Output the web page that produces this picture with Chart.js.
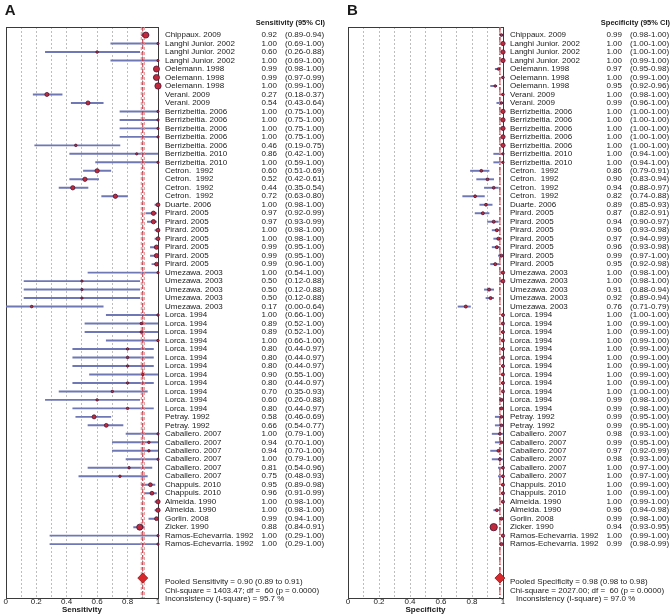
<!DOCTYPE html>
<html>
<head>
<meta charset="utf-8">
<script src="https://cdn.jsdelivr.net/npm/chart.js@4.4.1/dist/chart.umd.min.js"></script>
<style>
  body { margin: 0; background: #fff; }
  .wrap { display: flex; width: 670px; height: 615px; }
  canvas { display: block; }
</style>
</head>
<body>
<div class="wrap">
  <canvas id="chartA" width="335" height="615"></canvas>
  <canvas id="chartB" width="335" height="615"></canvas>
</div>
<script>
// studies (one row each, top to bottom)
const studies = [
  'Chippaux. 2009',
  'Langhi Junior. 2002', 'Langhi Junior. 2002', 'Langhi Junior. 2002',
  'Oelemann. 1998', 'Oelemann. 1998', 'Oelemann. 1998',
  'Verani. 2009', 'Verani. 2009',
  'Berrizbeitia. 2006', 'Berrizbeitia. 2006', 'Berrizbeitia. 2006', 'Berrizbeitia. 2006', 'Berrizbeitia. 2006',
  'Berrizbeitia. 2010', 'Berrizbeitia. 2010',
  'Cetron.  1992', 'Cetron.  1992', 'Cetron.  1992', 'Cetron.  1992',
  'Duarte. 2006',
  'Pirard. 2005', 'Pirard. 2005', 'Pirard. 2005', 'Pirard. 2005', 'Pirard. 2005', 'Pirard. 2005', 'Pirard. 2005',
  'Umezawa. 2003', 'Umezawa. 2003', 'Umezawa. 2003', 'Umezawa. 2003', 'Umezawa. 2003',
  'Lorca. 1994', 'Lorca. 1994', 'Lorca. 1994', 'Lorca. 1994', 'Lorca. 1994', 'Lorca. 1994',
  'Lorca. 1994', 'Lorca. 1994', 'Lorca. 1994', 'Lorca. 1994', 'Lorca. 1994', 'Lorca. 1994',
  'Petray. 1992', 'Petray. 1992',
  'Caballero. 2007', 'Caballero. 2007', 'Caballero. 2007', 'Caballero. 2007', 'Caballero. 2007', 'Caballero. 2007',
  'Chappuis. 2010', 'Chappuis. 2010',
  'Almeida. 1990', 'Almeida. 1990',
  'Gorlin. 2008',
  'Zicker. 1990',
  'Ramos-Echevarria. 1992', 'Ramos-Echevarria. 1992'
];

// sensitivity (panel A)
const sensVal = [0.92, 1.00, 0.60, 1.00, 0.99, 0.99, 1.00, 0.27, 0.54, 1.00, 1.00, 1.00, 1.00, 0.46, 0.86, 1.00,
  0.60, 0.52, 0.44, 0.72, 1.00, 0.97, 0.97, 1.00, 1.00, 0.99, 0.99, 0.99, 1.00, 0.50, 0.50, 0.50, 0.17,
  1.00, 0.89, 0.89, 1.00, 0.80, 0.80, 0.80, 0.90, 0.80, 0.70, 0.60, 0.80, 0.58, 0.66,
  1.00, 0.94, 0.94, 1.00, 0.81, 0.75, 0.95, 0.96, 1.00, 1.00, 0.99, 0.88, 1.00, 1.00];
const sensLo = [0.89, 0.69, 0.26, 0.69, 0.98, 0.97, 0.99, 0.18, 0.43, 0.75, 0.75, 0.75, 0.75, 0.19, 0.42, 0.59,
  0.51, 0.42, 0.35, 0.63, 0.98, 0.92, 0.93, 0.98, 0.98, 0.95, 0.95, 0.96, 0.54, 0.12, 0.12, 0.12, 0.00,
  0.66, 0.52, 0.52, 0.66, 0.44, 0.44, 0.44, 0.55, 0.44, 0.35, 0.26, 0.44, 0.46, 0.54,
  0.79, 0.70, 0.70, 0.79, 0.54, 0.48, 0.89, 0.91, 0.98, 0.98, 0.94, 0.84, 0.29, 0.29];
const sensHi = [0.94, 1.00, 0.88, 1.00, 1.00, 0.99, 1.00, 0.37, 0.64, 1.00, 1.00, 1.00, 1.00, 0.75, 1.00, 1.00,
  0.69, 0.61, 0.54, 0.80, 1.00, 0.99, 0.99, 1.00, 1.00, 1.00, 1.00, 1.00, 1.00, 0.88, 0.88, 0.88, 0.64,
  1.00, 1.00, 1.00, 1.00, 0.97, 0.97, 0.97, 1.00, 0.97, 0.93, 0.88, 0.97, 0.69, 0.77,
  1.00, 1.00, 1.00, 1.00, 0.96, 0.93, 0.98, 0.99, 1.00, 1.00, 1.00, 0.91, 1.00, 1.00];
const sensWeight = [8.5, 1, 1.5, 1, 8.5, 8.5, 9, 4.5, 4.5, 1, 1, 1, 1, 1.5, 1, 1,
  5, 5, 5, 5, 4, 5, 5, 4, 4, 5, 5, 4, 1, 1, 1, 1, 1.5,
  1.3, 1.3, 1.3, 1.3, 1.3, 1.3, 1.3, 1.3, 1.3, 1.3, 1.3, 1.3, 4.5, 4,
  1, 1.3, 1.3, 1, 1.3, 1.3, 4, 4, 5, 5, 4, 8.5, 1, 1];
const sensPooled = [0.90, 0.89, 0.91];
const sensStats = [
  'Pooled Sensitivity = 0.90 (0.89 to 0.91)',
  'Chi-square = 1403.47; df =  60 (p = 0.0000)',
  'Inconsistency (I-square) = 95.7 %'
];

// specificity (panel B)
const specVal = [0.99, 1.00, 1.00, 1.00, 0.97, 1.00, 0.95, 1.00, 0.99, 1.00, 1.00, 1.00, 1.00, 1.00, 1.00, 1.00,
  0.86, 0.90, 0.94, 0.82, 0.89, 0.87, 0.94, 0.96, 0.97, 0.96, 0.99, 0.95, 1.00, 1.00, 0.91, 0.92, 0.76,
  1.00, 1.00, 1.00, 1.00, 1.00, 1.00, 1.00, 1.00, 1.00, 1.00, 0.99, 0.99, 0.99, 0.99,
  0.98, 0.99, 0.97, 0.98, 1.00, 1.00, 1.00, 1.00, 1.00, 0.96, 0.99, 0.94, 1.00, 0.99];
const specLo = [0.98, 1.00, 1.00, 0.99, 0.95, 0.99, 0.92, 0.98, 0.96, 1.00, 1.00, 1.00, 1.00, 1.00, 0.94, 0.94,
  0.79, 0.83, 0.88, 0.74, 0.85, 0.82, 0.90, 0.93, 0.94, 0.93, 0.97, 0.92, 0.98, 0.98, 0.88, 0.89, 0.71,
  1.00, 0.99, 0.99, 0.99, 0.99, 0.99, 0.99, 0.99, 0.99, 1.00, 0.98, 0.98, 0.95, 0.95,
  0.93, 0.95, 0.92, 0.93, 0.97, 0.97, 0.99, 0.99, 0.99, 0.94, 0.98, 0.93, 0.99, 0.98];
const specHi = [1.00, 1.00, 1.00, 1.00, 0.98, 1.00, 0.96, 1.00, 1.00, 1.00, 1.00, 1.00, 1.00, 1.00, 1.00, 1.00,
  0.91, 0.94, 0.97, 0.88, 0.93, 0.91, 0.97, 0.98, 0.99, 0.98, 1.00, 0.98, 1.00, 1.00, 0.94, 0.94, 0.79,
  1.00, 1.00, 1.00, 1.00, 1.00, 1.00, 1.00, 1.00, 1.00, 1.00, 1.00, 1.00, 1.00, 1.00,
  1.00, 1.00, 0.99, 1.00, 1.00, 1.00, 1.00, 1.00, 1.00, 0.98, 1.00, 0.95, 1.00, 0.99];
const specWeight = [2, 5, 5, 5, 1.5, 1.5, 1.5, 1.5, 1.5, 5, 5, 5, 5, 5, 1, 1,
  2, 2, 2, 2, 2, 2.5, 2.5, 2.5, 2.5, 2.5, 2.5, 2.5, 3, 4, 2.5, 2.5, 2.5,
  2.5, 2.5, 2.5, 2.5, 2.5, 2.5, 2.5, 2.5, 2.5, 2.5, 2.5, 2.5, 2, 2,
  2, 2, 2, 2, 2, 2, 2.5, 2.5, 2.5, 2, 2.5, 11, 3, 3];
const specPooled = [0.98, 0.98, 0.98];
const specStats = [
  'Pooled Specificity = 0.98 (0.98 to 0.98)',
  'Chi-square = 2027.00; df =  60 (p = 0.0000)',
  'Inconsistency (I-square) = 97.0 %'
];

const xTicks = [0, 0.2, 0.4, 0.6, 0.8, 1];
const poolRow = 65;
const yMin = 0.05, yMax = 67.35;

const FONT = '"Liberation Sans", Arial, sans-serif';
Chart.defaults.font.family = FONT;
Chart.defaults.color = '#1a1a1a';

// box, panel letter, study labels and numbers
const forestText = {
  id: 'forestText',
  beforeDatasetsDraw(chart) {
    const { ctx, chartArea: a } = chart;
    ctx.save();
    ctx.strokeStyle = '#3a3a3a';
    ctx.lineWidth = 1;
    ctx.strokeRect(Math.round(a.left) + 0.5, Math.round(a.top) + 0.5,
      Math.round(a.right - a.left), Math.round(a.bottom - a.top));
    ctx.restore();
  },
  afterDraw(chart, args, o) {
    const { ctx, chartArea: a, scales: { y } } = chart;
    ctx.save();
    ctx.fillStyle = '#1a1a1a';
    ctx.textBaseline = 'middle';
    ctx.textAlign = 'left';
    ctx.font = 'bold 15px ' + FONT;
    ctx.fillText(o.letter, a.left - 1, 11);
    ctx.font = 'bold 7.5px ' + FONT;
    ctx.textAlign = 'right';
    ctx.fillText(o.header, a.right + 167, 23);
    ctx.font = '8px ' + FONT;
    studies.forEach((n, i) => {
      const py = y.getPixelForValue(i + 1);
      ctx.textAlign = 'left';
      ctx.fillText(n, a.right + 7, py);
      ctx.textAlign = 'right';
      ctx.fillText(o.vals[i].toFixed(2), a.right + 119, py);
      ctx.textAlign = 'left';
      ctx.fillText('(' + o.lo[i].toFixed(2) + '-' + o.hi[i].toFixed(2) + ')', a.right + 127, py);
    });
    const pp = y.getPixelForValue(poolRow);
    o.stats.forEach((s, k) => {
      ctx.fillText(s, a.right + 7 + (k === 2 ? o.indent : 0), pp + 4 + k * 8.5);
    });
    ctx.restore();
  }
};

function makePanel(id, p) {
  const lines = p.pooled.map((v, k) => ({
    type: 'line',
    data: [{ x: v, y: yMin }, { x: v, y: yMax }],
    borderColor: k === 0 ? '#c0283a' : '#e58a8a',
    borderWidth: 1,
    borderDash: k === 0 ? p.dash : [3, 2],
    pointRadius: 0,
    order: 1
  }));
  new Chart(document.getElementById(id), {
    type: 'scatter',
    data: {
      datasets: [
        {
          type: 'scatter',
          data: p.vals.map((v, i) => ({ x: v, y: i + 1 })),
          pointRadius: p.weight.map(w => 0.9 + 0.25 * w),
          backgroundColor: '#c22a3c',
          borderColor: '#4a1432',
          borderWidth: 0.8,
          clip: false,
          order: 0
        },
        {
          type: 'scatter',
          data: [{ x: p.pooled[0], y: poolRow }],
          pointStyle: 'rectRot',
          pointRadius: 5,
          backgroundColor: '#d8282c',
          borderColor: '#8a1418',
          borderWidth: 0.8,
          clip: false,
          order: 0
        },
        {
          type: 'bar',
          indexAxis: 'y',
          data: p.lo.map((l, i) => ({ y: i + 1, x: [l, p.hi[i]] })),
          barThickness: 1.3,
          backgroundColor: '#6f78b4',
          borderWidth: 0,
          grouped: false,
          order: 2
        },
        ...lines
      ]
    },
    options: {
      responsive: false,
      animation: false,
      events: [],
      layout: { padding: { left: p.padLeft, right: p.padRight, top: 27, bottom: 0 } },
      plugins: {
        legend: { display: false },
        tooltip: { enabled: false },
        forestText: p
      },
      scales: {
        x: {
          type: 'linear',
          min: 0,
          max: 1,
          grid: {
            color: c => (c.tick && (c.tick.value < 0.01 || c.tick.value > 0.99)) ? 'rgba(0,0,0,0)' : '#bdbdbd',
            lineWidth: 1,
            drawTicks: false
          },
          border: { display: false, dash: [2, 2] },
          ticks: {
            stepSize: 0.1,
            padding: 0,
            autoSkip: false,
            maxRotation: 0,
            font: { size: 8, lineHeight: 1 },
            callback: v => {
              const t = xTicks.find(x => Math.abs(x - v) < 1e-6);
              return t === undefined ? '' : String(t);
            }
          },
          title: {
            display: true,
            text: p.axisTitle,
            padding: { top: 0, bottom: 1 },
            font: { size: 8, weight: 'bold', lineHeight: 1 }
          }
        },
        y: {
          type: 'linear',
          display: false,
          reverse: true,
          offset: false,
          min: yMin,
          max: yMax
        }
      }
    },
    plugins: [forestText]
  });
}

makePanel('chartA', {
  letter: 'A', header: 'Sensitivity (95% CI)', axisTitle: 'Sensitivity',
  vals: sensVal, lo: sensLo, hi: sensHi, weight: sensWeight,
  pooled: sensPooled, stats: sensStats, indent: 0, dash: [4, 2],
  padLeft: 4, padRight: 177
});
makePanel('chartB', {
  letter: 'B', header: 'Specificity (95% CI)', axisTitle: 'Specificity',
  vals: specVal, lo: specLo, hi: specHi, weight: specWeight,
  pooled: specPooled, stats: specStats, indent: 6, dash: [5, 2, 1, 2],
  padLeft: 13, padRight: 167
});
</script>
</body>
</html>
